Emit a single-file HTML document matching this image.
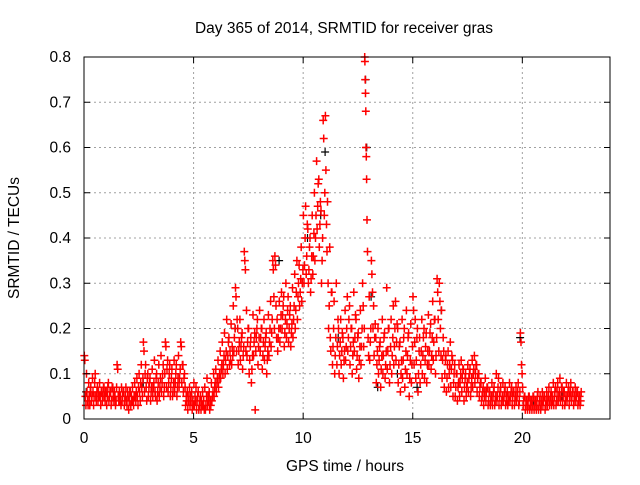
<!DOCTYPE html>
<html><head><meta charset="utf-8"><style>
body{margin:0;background:#fff}
svg text{font-family:"Liberation Sans",sans-serif;font-size:15.5px;fill:#000}
</style></head><body>
<svg id="chart" width="640" height="480" viewBox="0 0 640 480" xmlns="http://www.w3.org/2000/svg">
<rect width="640" height="480" fill="#fff"/>
<text x="344" y="33" text-anchor="middle">Day 365 of 2014, SRMTID for receiver gras</text>
<text x="345" y="471" text-anchor="middle">GPS time / hours</text>
<text transform="translate(19,238) rotate(-90)" text-anchor="middle">SRMTID / TECUs</text>
<g id="grid"></g>
<g id="marks"></g>
<g id="axes"></g>
</svg>
<script>
const xTicks=[0,5,10,15,20];
const yTicks=[0,0.1,0.2,0.3,0.4,0.5,0.6,0.7,0.8];
const yTickLabels=["0","0.1","0.2","0.3","0.4","0.5","0.6","0.7","0.8"];
const binStart=0, binWidth=0.1;
const tecBins=[
[0.14,0.13,0.05,0.03],[0.1,0.06,0.04,0.03],[0.08,0.05,0.03,0.06],[0.07,0.04,0.05,0.09],[0.06,0.03,0.05,0.08],[0.1,0.05,0.04,0.06],[0.07,0.04,0.06,0.05],[0.08,0.05,0.03,0.06],[0.06,0.04,0.05,0.07],[0.07,0.05,0.04,0.06],
[0.06,0.03,0.05,0.07],[0.08,0.04,0.05,0.06],[0.06,0.03,0.04,0.07],[0.07,0.05,0.04,0.06],[0.05,0.03,0.04,0.07],[0.12,0.11,0.05,0.04],[0.06,0.04,0.05,0.03],[0.07,0.04,0.05,0.06],[0.06,0.03,0.04,0.05],[0.07,0.04,0.03,0.06],
[0.05,0.02,0.04,0.06],[0.06,0.03,0.05,0.04],[0.07,0.04,0.03,0.05],[0.08,0.05,0.04,0.06],[0.09,0.05,0.03,0.07],[0.1,0.06,0.04,0.08],[0.12,0.07,0.05,0.09],[0.17,0.15,0.06,0.1],[0.12,0.07,0.04,0.09],[0.1,0.05,0.07,0.08],
[0.09,0.04,0.06,0.07],[0.11,0.05,0.07,0.08],[0.13,0.06,0.05,0.09],[0.1,0.04,0.06,0.08],[0.12,0.05,0.07,0.09],[0.14,0.06,0.08,0.1],[0.12,0.05,0.07,0.1],[0.17,0.16,0.07,0.11],[0.13,0.06,0.08,0.1],[0.12,0.05,0.07,0.09],
[0.11,0.05,0.06,0.08],[0.13,0.06,0.08,0.1],[0.12,0.05,0.07,0.09],[0.14,0.07,0.09,0.11],[0.17,0.16,0.08,0.12],[0.12,0.06,0.09,0.1],[0.07,0.03,0.05,0.04],[0.06,0.02,0.04,0.05],[0.07,0.03,0.05,0.04],[0.06,0.02,0.04,0.03],
[0.08,0.03,0.05,0.04],[0.07,0.02,0.04,0.05],[0.06,0.02,0.03,0.04],[0.05,0.02,0.04,0.03],[0.06,0.03,0.04,0.02],[0.07,0.02,0.03,0.05],[0.09,0.03,0.05,0.04],[0.06,0.02,0.04,0.03],[0.08,0.04,0.05,0.06],[0.1,0.05,0.07,0.08],
[0.11,0.06,0.08,0.09],[0.13,0.07,0.09,0.1],[0.15,0.09,0.11,0.12],[0.17,0.1,0.12,0.14],[0.19,0.1,0.13,0.15],[0.22,0.11,0.14,0.17],[0.18,0.12,0.15,0.13],[0.21,0.12,0.16,0.14],[0.25,0.15,0.18,0.2],[0.29,0.27,0.15,0.22],
[0.2,0.12,0.15,0.17],[0.22,0.13,0.16,0.18],[0.19,0.11,0.14,0.16],[0.37,0.35,0.33,0.15],[0.24,0.14,0.17,0.2],[0.2,0.1,0.13,0.16],[0.18,0.08,0.11,0.14],[0.23,0.14,0.17,0.19],[0.02,0.15,0.18,0.2],[0.22,0.12,0.16,0.18],
[0.24,0.15,0.18,0.2],[0.2,0.11,0.14,0.17],[0.22,0.13,0.16,0.18],[0.19,0.1,0.13,0.15],[0.23,0.14,0.17,0.2],[0.26,0.16,0.19,0.22],[0.35,0.33,0.27,0.2],[0.36,0.34,0.25,0.18],[0.22,0.15,0.18,0.2],[0.26,0.17,0.2,0.23],
[0.28,0.2,0.23,0.25],[0.27,0.16,0.19,0.22],[0.3,0.18,0.21,0.24],[0.27,0.17,0.2,0.23],[0.25,0.16,0.19,0.21],[0.29,0.18,0.22,0.25],[0.32,0.2,0.24,0.28],[0.35,0.22,0.27,0.3],[0.34,0.25,0.28,0.31],[0.38,0.26,0.3,0.33],
[0.45,0.3,0.34,0.4],[0.47,0.32,0.36,0.43],[0.42,0.3,0.33,0.38],[0.4,0.28,0.31,0.36],[0.45,0.32,0.36,0.41],[0.5,0.35,0.4,0.45],[0.57,0.42,0.47,0.52],[0.53,0.38,0.43,0.48],[0.46,0.3,0.35,0.4],[0.66,0.62,0.45,0.5],
[0.67,0.55,0.43,0.37],[0.48,0.3,0.2,0.25],[0.38,0.18,0.15,0.28],[0.28,0.12,0.16,0.2],[0.26,0.1,0.14,0.18],[0.3,0.12,0.16,0.22],[0.2,0.1,0.14,0.17],[0.22,0.12,0.15,0.19],[0.18,0.09,0.13,0.15],[0.24,0.13,0.16,0.2],
[0.27,0.15,0.18,0.22],[0.25,0.12,0.16,0.2],[0.2,0.1,0.14,0.17],[0.28,0.15,0.18,0.23],[0.22,0.11,0.14,0.18],[0.19,0.09,0.13,0.16],[0.24,0.12,0.16,0.2],[0.3,0.25,0.16,0.2],[0.8,0.79,0.75,0.72,0.68,0.6,0.58,0.53],[0.44,0.37,0.18,0.14],
[0.27,0.13,0.17,0.2],[0.35,0.32,0.28,0.2],[0.25,0.14,0.18,0.21],[0.18,0.08,0.12,0.15],[0.2,0.1,0.13,0.16],[0.17,0.07,0.11,0.14],[0.22,0.1,0.14,0.18],[0.19,0.09,0.12,0.15],[0.29,0.11,0.15,0.2],[0.2,0.08,0.12,0.16],
[0.22,0.1,0.14,0.18],[0.25,0.12,0.16,0.2],[0.26,0.13,0.17,0.21],[0.2,0.08,0.12,0.16],[0.17,0.06,0.1,0.13],[0.22,0.09,0.13,0.18],[0.2,0.07,0.11,0.15],[0.24,0.1,0.14,0.18],[0.19,0.05,0.09,0.13],[0.21,0.08,0.12,0.16],
[0.27,0.24,0.12,0.17],[0.22,0.09,0.13,0.18],[0.2,0.06,0.1,0.15],[0.18,0.08,0.12,0.15],[0.22,0.1,0.14,0.18],[0.2,0.09,0.13,0.16],[0.19,0.08,0.12,0.15],[0.23,0.12,0.15,0.19],[0.21,0.11,0.14,0.18],[0.26,0.13,0.17,0.22],
[0.22,0.1,0.14,0.18],[0.31,0.28,0.22,0.15],[0.3,0.26,0.2,0.14],[0.24,0.09,0.13,0.18],[0.15,0.07,0.1,0.13],[0.14,0.06,0.09,0.12],[0.15,0.07,0.1,0.12],[0.17,0.07,0.11,0.14],[0.13,0.05,0.08,0.1],[0.12,0.05,0.07,0.1],
[0.1,0.04,0.07,0.08],[0.12,0.05,0.08,0.1],[0.13,0.06,0.09,0.11],[0.11,0.04,0.07,0.09],[0.1,0.05,0.07,0.08],[0.12,0.06,0.09,0.1],[0.11,0.05,0.07,0.09],[0.13,0.07,0.1,0.11],[0.14,0.08,0.1,0.12],[0.12,0.06,0.09,0.1],
[0.1,0.05,0.07,0.08],[0.08,0.04,0.05,0.06],[0.07,0.03,0.05,0.06],[0.09,0.04,0.06,0.07],[0.07,0.03,0.04,0.06],[0.06,0.03,0.04,0.05],[0.08,0.03,0.05,0.06],[0.07,0.03,0.04,0.05],[0.1,0.04,0.05,0.07],[0.09,0.03,0.05,0.06],
[0.07,0.03,0.04,0.05],[0.08,0.04,0.05,0.06],[0.07,0.03,0.05,0.04],[0.06,0.03,0.04,0.05],[0.08,0.04,0.05,0.06],[0.07,0.03,0.05,0.06],[0.06,0.03,0.04,0.05],[0.07,0.04,0.05,0.06],[0.08,0.03,0.04,0.06],[0.19,0.17,0.12,0.1],
[0.07,0.03,0.04,0.05],[0.05,0.02,0.03,0.04],[0.04,0.02,0.03,0.05],[0.05,0.02,0.03,0.04],[0.04,0.02,0.03,0.05],[0.05,0.02,0.03,0.04],[0.04,0.02,0.03,0.05],[0.06,0.02,0.03,0.04],[0.05,0.02,0.03,0.04],[0.06,0.03,0.04,0.05],
[0.05,0.02,0.03,0.04],[0.06,0.03,0.04,0.05],[0.07,0.03,0.04,0.05],[0.06,0.03,0.05,0.04],[0.08,0.03,0.05,0.06],[0.07,0.03,0.04,0.06],[0.08,0.04,0.05,0.06],[0.09,0.04,0.05,0.07],[0.07,0.03,0.05,0.06],[0.06,0.03,0.04,0.05],
[0.08,0.04,0.05,0.06],[0.07,0.03,0.05,0.06],[0.08,0.04,0.05,0.06],[0.06,0.03,0.04,0.05],[0.07,0.04,0.05,0.06],[0.06,0.03,0.04,0.05],[0.05,0.03,0.04,0.06]
];
const blackHours=[0.1,2.7,6.9,8.9,10.2,10.8,11.0,11.6,12.85,12.9,13.1,13.4,14.3,15.2,16.3,19.9,20.5,21.8];
const blackTec=[0.06,0.08,0.2,0.35,0.4,0.45,0.59,0.18,0.75,0.6,0.27,0.07,0.1,0.07,0.24,0.18,0.04,0.05];

const L=84,R=610,T=57,B=419,XMAX=24,YMAX=0.8;
const sx=h=>L+h/XMAX*(R-L);
const sy=v=>B-v/YMAX*(B-T);
const NS="http://www.w3.org/2000/svg";
const grid=document.getElementById('grid'),marks=document.getElementById('marks'),axes=document.getElementById('axes');
function mk(tag,attrs,parent){const e=document.createElementNS(NS,tag);for(const k in attrs)e.setAttribute(k,attrs[k]);parent.appendChild(e);return e;}

xTicks.forEach(t=>{
  const x=sx(t);
  if(t>0){const g=mk('line',{x1:x,x2:x,y1:T,y2:B,stroke:'#a0a0a0','stroke-dasharray':'2,3'},grid);
  
  }
  const lb=mk('text',{x:x,y:B+24,'text-anchor':'middle'},axes);lb.textContent=t;
  
  
  mk('line',{x1:x,x2:x,y1:B,y2:B-6,stroke:'#000'},axes);
  mk('line',{x1:x,x2:x,y1:T,y2:T+6,stroke:'#000'},axes);
});
yTicks.forEach((t,i)=>{
  const y=sy(t);
  if(t>0&&t<YMAX){const g=mk('line',{x1:L,x2:R,y1:y,y2:y,stroke:'#a0a0a0','stroke-dasharray':'2,3'},grid);
  
  }
  const lb=mk('text',{x:L-13,y:y+5,'text-anchor':'end'},axes);lb.textContent=yTickLabels[i];
  
  
  mk('line',{x1:L,x2:L+6,y1:y,y2:y,stroke:'#000'},axes);
  mk('line',{x1:R,x2:R-6,y1:y,y2:y,stroke:'#000'},axes);
});
const fr=mk('rect',{x:L,y:T,width:R-L,height:B-T,fill:'none',stroke:'#000'},axes);



function plus(x,y){return `M${(x-4).toFixed(1)} ${y.toFixed(1)}h8M${x.toFixed(1)} ${(y-4).toFixed(1)}v8`;}
let dB='';
blackHours.forEach((h,i)=>{dB+=plus(sx(h),sy(blackTec[i]));});
let dR='';
tecBins.forEach((bin,i)=>{
  bin.forEach((v,j)=>{
    const h=binStart+i*binWidth+(j+0.5)*binWidth/bin.length;
    dR+=plus(sx(h),sy(v));
  });
});
const pb=mk('path',{d:dB,stroke:'#000','stroke-width':1.2,fill:'none'},marks);


const pr=mk('path',{d:dR,stroke:'#ff0000','stroke-width':1.5,fill:'none'},marks);


</script>
</body></html>
